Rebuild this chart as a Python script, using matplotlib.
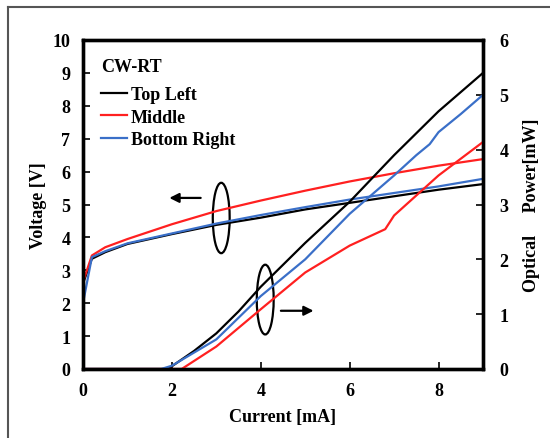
import matplotlib.pyplot as plt
from matplotlib.patches import Ellipse
from matplotlib.lines import Line2D

plt.rcParams['font.family'] = ['Liberation Serif', 'DejaVu Serif']
plt.rcParams['font.weight'] = 'bold'
plt.rcParams['font.size'] = 13

# current [mA] for the voltage curves
i_v = [0, 0.2, 0.5, 1, 2, 3, 4, 5, 6, 7, 8, 9]
v_top = [2.6, 3.35, 3.55, 3.8, 4.1, 4.38, 4.6, 4.85, 5.05, 5.25, 5.45, 5.62]
v_mid = [2.65, 3.45, 3.7, 3.95, 4.4, 4.8, 5.12, 5.42, 5.7, 5.95, 6.18, 6.38]
v_bot = [2.0, 3.4, 3.58, 3.82, 4.12, 4.42, 4.68, 4.92, 5.15, 5.35, 5.55, 5.78]

# optical power [mW]
i_p_top = [0, 1.9, 2, 2.5, 3, 3.5, 4, 5, 6, 7, 8, 9]
p_top = [0, 0, 0.05, 0.33, 0.65, 1.05, 1.5, 2.3, 3.05, 3.9, 4.7, 5.4]
i_p_mid = [0, 2.22, 3, 4, 5, 6, 6.8, 7, 8, 9]
p_mid = [0, 0, 0.41, 1.09, 1.76, 2.25, 2.55, 2.8, 3.53, 4.14]
i_p_bot = [0, 1.76, 2, 3, 4, 5, 6, 7, 7.5, 7.8, 8, 8.5, 9]
p_bot = [0, 0, 0.06, 0.54, 1.33, 2.0, 2.83, 3.53, 3.9, 4.1, 4.32, 4.65, 5.0]

names = ['Top Left', 'Middle', 'Bottom Right']
colors = ['black', '#ff2020', '#3a6fc8']

fig = plt.figure(figsize=(5.5, 4.39), dpi=100)
ax = fig.add_axes([83/550, 1-370/439, 400/550, 329/439])
ax2 = ax.twinx()

for v, c, n in zip([v_top, v_mid, v_bot], colors, names):
    ax.plot(i_v, v, color=c, lw=1.6, label=n)
for x, p, c in zip([i_p_top, i_p_mid, i_p_bot], [p_top, p_mid, p_bot], colors):
    ax2.plot(x, p, color=c, lw=1.6)

ax.set_xlim(0, 9)
ax.set_ylim(0, 10)
ax2.set_ylim(0, 6)
ax.set_xticks([0, 2, 4, 6, 8])
ax.set_yticks(range(0, 11))
ax2.set_yticks(range(0, 7))
ax.tick_params(axis='x', direction='in', length=5, width=1.2, top=False, pad=9)
ax.tick_params(axis='y', direction='in', length=5, width=1.2, pad=9)
ax2.tick_params(direction='in', length=5, width=1.2, pad=12)
for a in (ax, ax2):
    for s in a.spines.values():
        s.set_linewidth(2.4)

ax.set_xlabel('Current [mA]', fontsize=13, fontweight='bold', labelpad=7)
ax.set_ylabel('Voltage [V]', fontsize=13, fontweight='bold', labelpad=4)
ax2.set_ylabel('Optical     Power[mW]', fontsize=13, fontweight='bold', labelpad=10)

leg = ax.legend(title='CW-RT', loc='upper left', frameon=False,
                handlelength=1.45, handletextpad=0.2, labelspacing=0.3,
                prop={'weight': 'bold', 'size': 13}, borderaxespad=0.6,
                alignment='left')
leg.get_title().set_fontweight('bold')
leg.get_title().set_fontsize(13)
leg._legend_box.sep = 8

# ellipses and arrows marking the axis of each family
ax.add_patch(Ellipse((3.11, 4.59), 0.38, 2.14, fill=False, lw=1.6, color='black'))
ax.add_patch(Ellipse((4.10, 2.11), 0.38, 2.12, fill=False, lw=1.6, color='black'))
ax.annotate('', xy=(1.88, 5.2), xytext=(2.71, 5.2),
            arrowprops=dict(arrowstyle='-|>', lw=1.6, color='black', mutation_scale=14))
ax.annotate('', xy=(5.25, 1.77), xytext=(4.39, 1.77),
            arrowprops=dict(arrowstyle='-|>', lw=1.6, color='black', mutation_scale=14))

# outer frame (top and left edges visible)
fig.add_artist(Line2D([8/550, 1], [1-8/439, 1-8/439], color='#555555', lw=1.5))
fig.add_artist(Line2D([8/550, 8/550], [0, 1-8/439], color='#555555', lw=1.5))

fig.savefig('out.png', dpi=100)
